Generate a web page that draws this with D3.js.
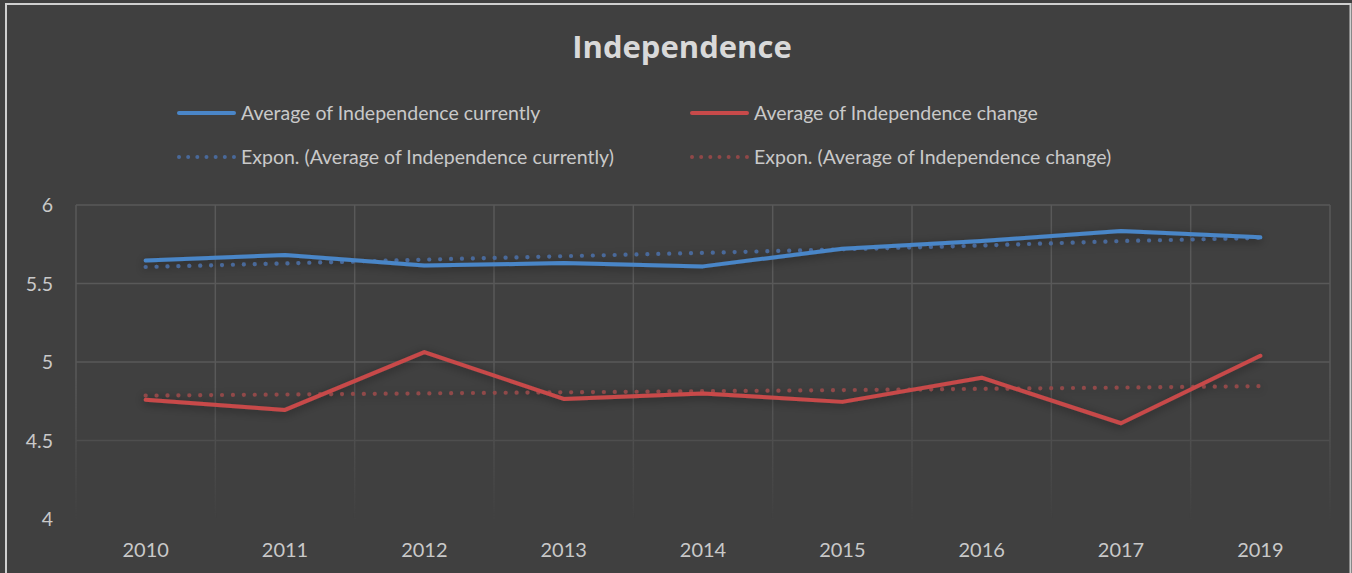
<!DOCTYPE html>
<html>
<head>
<meta charset="utf-8">
<script src="https://cdn.jsdelivr.net/npm/d3@7"></script>
<style>
  html, body { margin: 0; padding: 0; background: #404040; }
  svg { display: block; }
  text { font-family: Lato, "Open Sans", sans-serif; }
</style>
</head>
<body>
<script>
// ---- data ----
const categories = ["2010", "2011", "2012", "2013", "2014", "2015", "2016", "2017", "2019"];
const currently = [5.647, 5.682, 5.614, 5.630, 5.609, 5.722, 5.770, 5.835, 5.794];
const change = [4.759, 4.695, 5.063, 4.765, 4.800, 4.746, 4.900, 4.610, 5.040];
const trendCurrently = [5.605, 5.628, 5.652, 5.674, 5.695, 5.718, 5.742, 5.770, 5.790];
const trendChange = [4.786, 4.793, 4.800, 4.807, 4.814, 4.821, 4.829, 4.837, 4.846];
const yTicks = [4, 4.5, 5, 5.5, 6];
const title = "Independence";
const seriesNames = [
  "Average of Independence currently",
  "Average of Independence change",
  "Expon. (Average of Independence currently)",
  "Expon. (Average of Independence change)"
];

const W = 1352, H = 573;
const plot = { left: 76, right: 1330, top: 205, bottom: 519 };
const colors = { blue: "#4a86c8", red: "#c84a4a", blueTrend: "#49699a", redTrend: "#904848" };
const textColor = "#c9c9c9";

const svg = d3.select("body").append("svg").attr("width", W).attr("height", H);
const defs = svg.append("defs");

const shadow = defs.append("filter").attr("id", "shadow")
  .attr("x", "-10%").attr("y", "-50%").attr("width", "120%").attr("height", "200%");
shadow.append("feDropShadow").attr("dx", 0).attr("dy", 2).attr("stdDeviation", 5)
  .attr("flood-color", "#000").attr("flood-opacity", 0.45);

const grad = defs.append("linearGradient").attr("id", "fade")
  .attr("gradientUnits", "userSpaceOnUse")
  .attr("x1", 0).attr("y1", plot.top).attr("x2", 0).attr("y2", plot.bottom);
grad.append("stop").attr("offset", "0").attr("stop-color", "#fff");
grad.append("stop").attr("offset", "0.55").attr("stop-color", "#fff");
grad.append("stop").attr("offset", "1").attr("stop-color", "#fff").attr("stop-opacity", 0.03);
defs.append("mask").attr("id", "gridMask").attr("maskUnits", "userSpaceOnUse")
  .attr("x", 0).attr("y", 0).attr("width", W).attr("height", H)
  .append("rect").attr("x", 0).attr("y", 0).attr("width", W).attr("height", H).attr("fill", "url(#fade)");

// background + frame
svg.append("rect").attr("width", W).attr("height", H).attr("fill", "#404040");
svg.append("rect").attr("x", 6).attr("y", 4).attr("width", W - 7.5).attr("height", H + 20)
  .attr("fill", "none").attr("stroke", "#cfcfcf").attr("stroke-width", 2);

// scales
const x = d3.scaleBand().domain(categories).range([plot.left, plot.right]).padding(0);
const y = d3.scaleLinear().domain([4, 6]).range([plot.bottom, plot.top]);
const cx = d => x(d) + x.bandwidth() / 2;

// grid
const grid = svg.append("g").attr("mask", "url(#gridMask)");
grid.selectAll("line.h").data(yTicks).join("line").attr("class", "h")
  .attr("x1", plot.left).attr("x2", plot.right)
  .attr("y1", d => y(d)).attr("y2", d => y(d))
  .attr("stroke", "#595959").attr("stroke-width", 1.5);
const bounds = categories.map(c => x(c)).concat([plot.right]);
grid.selectAll("line.v").data(bounds).join("line").attr("class", "v")
  .attr("x1", d => d).attr("x2", d => d)
  .attr("y1", plot.top).attr("y2", plot.bottom)
  .attr("stroke", "#595959").attr("stroke-width", 1.5);

// axes
const yAxis = d3.axisLeft(y).tickValues(yTicks).tickSize(0).tickPadding(0).tickFormat(d3.format("~g"));
const gy = svg.append("g").attr("transform", `translate(53,0)`).call(yAxis);
gy.select(".domain").remove();
gy.selectAll("text").attr("fill", textColor).style("font-size", "19.5px").attr("dy", "0.35em");

const xAxis = d3.axisBottom(x).tickSize(0).tickPadding(0);
const gx = svg.append("g").attr("transform", `translate(0,${plot.bottom + 26})`).call(xAxis);
gx.select(".domain").remove();
gx.selectAll("text").attr("fill", textColor).style("font-size", "20px").attr("dy", "0.6em");

// lines
const line = d3.line().x((d, i) => cx(categories[i])).y(d => y(d));
const lines = svg.append("g").attr("filter", "url(#shadow)");
lines.append("path").datum(trendCurrently).attr("d", line).attr("fill", "none")
  .attr("stroke", colors.blueTrend).attr("stroke-width", 4.2).attr("stroke-linecap", "round")
  .attr("stroke-dasharray", "0.01 10.9");
lines.append("path").datum(trendChange).attr("d", line).attr("fill", "none")
  .attr("stroke", colors.redTrend).attr("stroke-width", 4.2).attr("stroke-linecap", "round")
  .attr("stroke-dasharray", "0.01 10.9");
lines.append("path").datum(currently).attr("d", line).attr("fill", "none")
  .attr("stroke", colors.blue).attr("stroke-width", 4).attr("stroke-linecap", "round").attr("stroke-linejoin", "round");
lines.append("path").datum(change).attr("d", line).attr("fill", "none")
  .attr("stroke", colors.red).attr("stroke-width", 4).attr("stroke-linecap", "round").attr("stroke-linejoin", "round");

// title
svg.append("text").attr("x", 682).attr("y", 58).attr("text-anchor", "middle")
  .attr("fill", "#d9d9d9").style("font-family", "'Open Sans', Lato, sans-serif")
  .style("font-size", "31px").style("font-weight", "bold").text(title);

// legend
const legendItems = [
  { name: seriesNames[0], color: colors.blue, dotted: false, x: 179, y: 113 },
  { name: seriesNames[1], color: colors.red, dotted: false, x: 692, y: 113 },
  { name: seriesNames[2], color: colors.blueTrend, dotted: true, x: 179, y: 157 },
  { name: seriesNames[3], color: colors.redTrend, dotted: true, x: 692, y: 157 }
];
const lg = svg.append("g");
legendItems.forEach(it => {
  const g = lg.append("g").attr("transform", `translate(${it.x},${it.y})`);
  g.append("line").attr("x1", 0).attr("x2", 55).attr("y1", 0).attr("y2", 0)
    .attr("stroke", it.color).attr("stroke-width", 4).attr("stroke-linecap", "round")
    .attr("stroke-dasharray", it.dotted ? "0.01 9.15" : null);
  g.append("text").attr("x", 62).attr("y", 0).attr("dy", "0.35em")
    .attr("fill", textColor).style("font-size", "19.5px").text(it.name);
});
</script>
</body>
</html>
